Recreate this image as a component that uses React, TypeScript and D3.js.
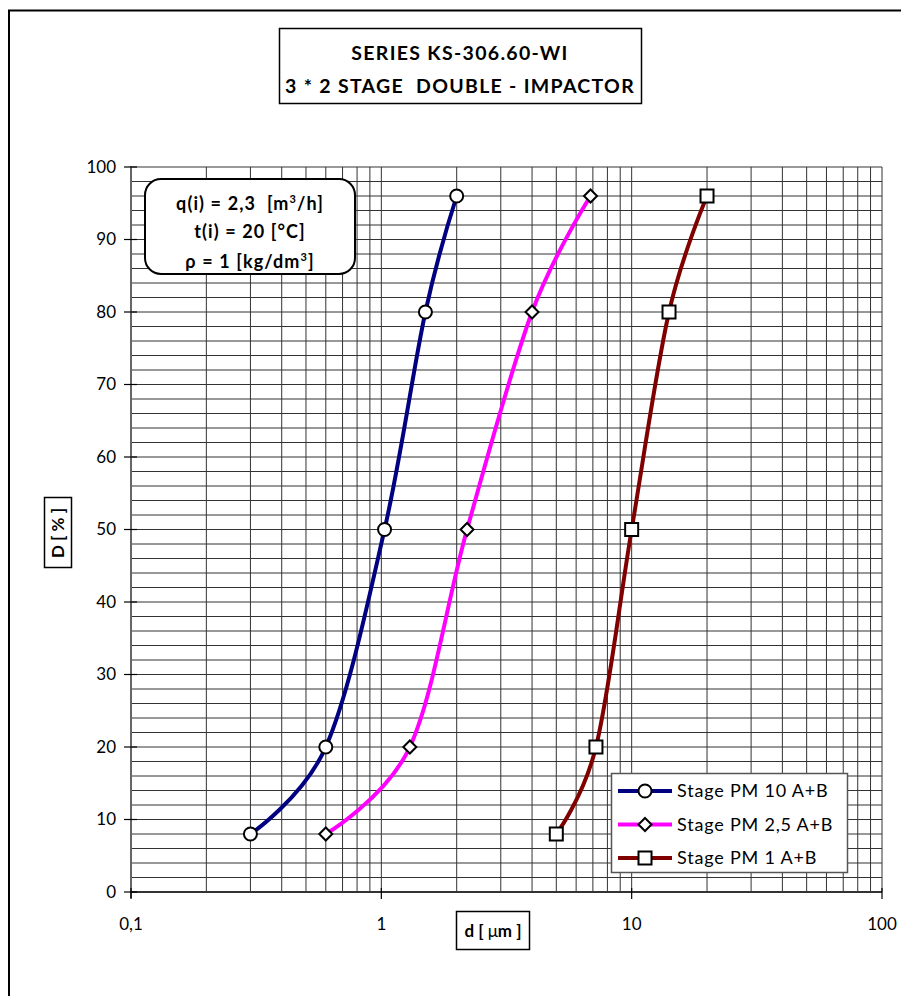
import React from "react";
import * as d3 from "d3";

const seriesNames = ["Stage PM 10 A+B", "Stage PM 2,5 A+B", "Stage PM 1 A+B"];
const seriesColors = ["#000080", "#FF00FF", "#800000"];
const seriesMarkers = ["circle", "diamond", "square"];
const pm10X = [0.3, 0.6, 1.03, 1.5, 2.0];
const pm10Y = [8, 20, 50, 80, 96];
const pm25X = [0.6, 1.3, 2.2, 4.0, 6.85];
const pm25Y = [8, 20, 50, 80, 96];
const pm1X = [5.0, 7.2, 10.0, 14.1, 20.0];
const pm1Y = [8, 20, 50, 80, 96];
const xTickLabels = ["0,1", "1", "10", "100"];
const xTickValues = [0.1, 1, 10, 100];
const yTickValues = [0, 10, 20, 30, 40, 50, 60, 70, 80, 90, 100];

const FONT = "Lato, 'Noto Sans', sans-serif";

export default function App() {
  const W = 901, H = 996;
  const L = 131, R = 882, T = 167, B = 892;
  const x = d3.scaleLog().domain([0.1, 100]).range([L, R]);
  const y = d3.scaleLinear().domain([0, 100]).range([B, T]);

  const series = [
    { xs: pm10X, ys: pm10Y },
    { xs: pm25X, ys: pm25Y },
    { xs: pm1X, ys: pm1Y },
  ];

  const line = d3
    .line<[number, number]>()
    .x((d) => x(d[0]))
    .y((d) => y(d[1]))
    .curve(d3.curveCatmullRom.alpha(0));

  const vGrid: number[] = [];
  for (let e = -1; e < 2; e++) {
    for (let m = 1; m <= 9; m++) vGrid.push(m * Math.pow(10, e));
  }
  vGrid.push(100);
  const hGrid = d3.range(0, 101, 2);

  const marker = (type: string, cx: number, cy: number, key: string) => {
    if (type === "circle")
      return <circle key={key} cx={cx} cy={cy} r={6.5} fill="#fff" stroke="#000" strokeWidth={2} />;
    if (type === "diamond") {
      const s = 6.5;
      return (
        <path key={key} d={`M${cx},${cy - s}L${cx + s},${cy}L${cx},${cy + s}L${cx - s},${cy}Z`} fill="#fff" stroke="#000" strokeWidth={2} />
      );
    }
    return <rect key={key} x={cx - 6.5} y={cy - 6.5} width={13} height={13} fill="#fff" stroke="#000" strokeWidth={2} />;
  };

  return (
    <svg width={W} height={H} style={{ position: "absolute", left: 0, top: 0, background: "#fff" }} fontFamily={FONT}>
      <defs>
        <clipPath id="infoClip">
          <rect x={145} y={179} width={210} height={94} rx={16} ry={16} />
        </clipPath>
      </defs>
      {/* outer frame */}
      <path d={`M9,996V10.5H901`} fill="none" stroke="#000" strokeWidth={2} />

      {/* grid */}
      {hGrid.map((v) => (
        <line key={"h" + v} x1={L} x2={R} y1={y(v)} y2={y(v)} stroke={v === 100 ? "#999" : "#333"} strokeWidth={v === 100 ? 2 : 1} />
      ))}
      {vGrid.map((v, i) => (
        <line key={"v" + i} x1={x(v)} x2={x(v)} y1={T} y2={B} stroke="#333" strokeWidth={1} />
      ))}

      {/* axes */}
      <line x1={L} x2={L} y1={T - 1} y2={B + 6} stroke="#666" strokeWidth={2} />
      <line x1={L} x2={R} y1={B} y2={B} stroke="#333" strokeWidth={2} />
      {yTickValues.map((v) => (
        <g key={"yt" + v}>
          <line x1={L - 7} x2={L + 6} y1={y(v)} y2={y(v)} stroke="#000" strokeWidth={1.2} />
          <text x={L - 15} y={y(v)} dy="0.35em" textAnchor="end" fontSize={17} fill="#000">
            {v}
          </text>
        </g>
      ))}
      {xTickValues.map((v, i) => (
        <g key={"xt" + v}>
          <line x1={x(v)} x2={x(v)} y1={B - 4} y2={B + 7} stroke="#000" strokeWidth={1.2} />
          <text x={x(v)} y={B + 38} textAnchor="middle" fontSize={17} fill="#000">
            {xTickLabels[i]}
          </text>
        </g>
      ))}

      {/* series */}
      {series.map((s, si) => (
        <path
          key={"l" + si}
          d={line(s.xs.map((xv, i) => [xv, s.ys[i]] as [number, number])) || ""}
          fill="none"
          stroke={seriesColors[si]}
          strokeWidth={4}
        />
      ))}
      {series.map((s, si) => s.xs.map((xv, i) => marker(seriesMarkers[si], x(xv), y(s.ys[i]), `m${si}-${i}`)))}

      {/* title */}
      <rect x={279.5} y={28.5} width={362} height={75} fill="#fff" stroke="#000" strokeWidth={1.5} />
      <text x={460} y={60} textAnchor="middle" fontSize={19.5} letterSpacing={1.3} fontWeight="bold" fill="#000">
        SERIES KS-306.60-WI
      </text>
      <text x={460} y={93} textAnchor="middle" fontSize={19.5} letterSpacing={1.3} fontWeight="bold" fill="#000" style={{ whiteSpace: "pre" }}>
        {"3 * 2 STAGE  DOUBLE - IMPACTOR"}
      </text>

      {/* info box */}
      <rect x={145} y={179} width={210} height={95} rx={16} ry={16} fill="#fff" stroke="#000" strokeWidth={2} />
      <g clipPath="url(#infoClip)">
        <text x={250} y={210} textAnchor="middle" fontSize={18} letterSpacing={1.1} fontWeight="bold" fill="#000" style={{ whiteSpace: "pre" }}>
          {"q(i) = 2,3  [m"}<tspan dy={-7} fontSize={11}>3</tspan><tspan dy={7}>/h]</tspan>
        </text>
        <text x={250} y={238} textAnchor="middle" fontSize={18} letterSpacing={1.1} fontWeight="bold" fill="#000">
          t(i) = 20 [°C]
        </text>
        <text x={250} y={268} textAnchor="middle" fontSize={18} letterSpacing={1.1} fontWeight="bold" fill="#000">
          ρ = 1 [kg/dm<tspan dy={-7} fontSize={11}>3</tspan><tspan dy={7}>]</tspan>
        </text>
      </g>

      {/* y axis title */}
      <rect x={44.5} y={497.5} width={27} height={70} fill="#fff" stroke="#000" strokeWidth={1.5} />
      <text transform={`translate(64,533) rotate(-90)`} textAnchor="middle" fontSize={17} fontWeight="bold" fill="#000">
        D [ % ]
      </text>

      {/* x axis title */}
      <rect x={456.5} y={911.5} width={73} height={38} fill="#fff" stroke="#000" strokeWidth={1.5} />
      <text x={493} y={937} textAnchor="middle" fontSize={17} fontWeight="bold" fill="#000">
        d [ <tspan fontWeight="normal">μ</tspan>m ]
      </text>

      {/* legend */}
      <rect x={611.5} y={773.5} width={236} height={99} fill="#fff" stroke="#555" strokeWidth={1.5} />
      {seriesNames.map((n, i) => {
        const cy = 791 + i * 33.5;
        return (
          <g key={"lg" + i}>
            <line x1={618} x2={672} y1={cy} y2={cy} stroke={seriesColors[i]} strokeWidth={4} />
            {marker(seriesMarkers[i], 645, cy, "lm" + i)}
            <text x={677} y={cy} dy="0.36em" fontSize={18} letterSpacing={0.8} fill="#000">
              {n}
            </text>
          </g>
        );
      })}
    </svg>
  );
}
